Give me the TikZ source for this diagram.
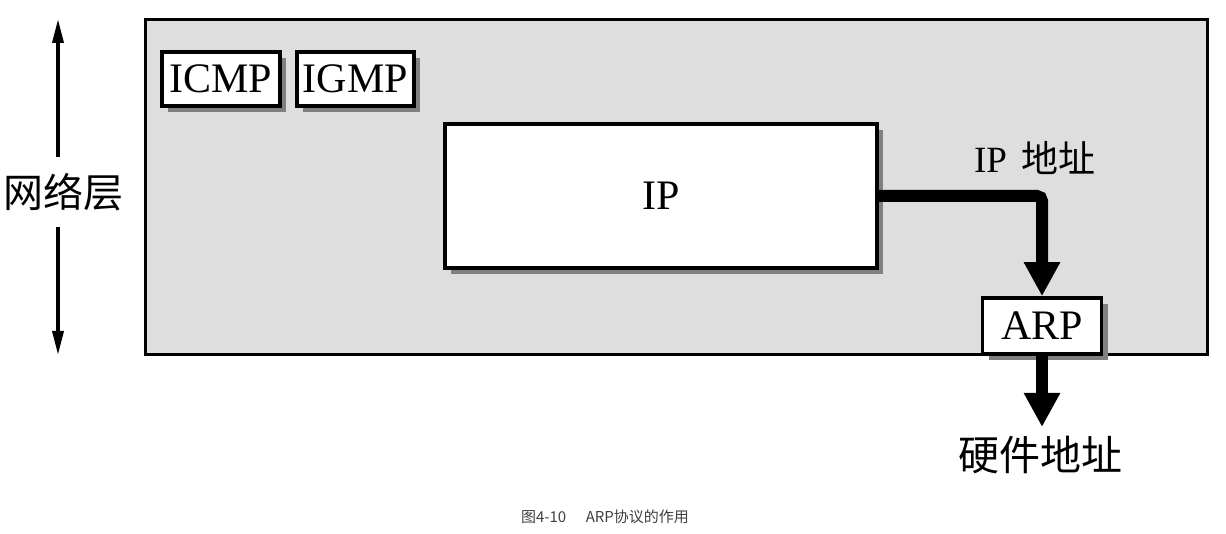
\documentclass[tikz,border=0pt]{standalone}
\usepackage{fontspec}
\setmainfont{Liberation Serif}
\newfontfamily\cjk{Noto Sans CJK SC}
\usetikzlibrary{arrows.meta,shadows}
\definecolor{layerfill}{HTML}{DEDEDE}
\definecolor{shadowgray}{HTML}{808080}
\tikzset{
  protobox/.style={draw=black, line width=3.5pt, fill=white, inner sep=0pt,
    font=\fontsize{42}{48}\selectfont,
    drop shadow={shadow xshift=6pt, shadow yshift=-6pt, fill=shadowgray, opacity=1}},
  layerbox/.style={draw=black, line width=3pt, fill=layerfill, inner sep=0pt},
  bigarrow/.style={line width=12pt, -{Triangle[width=34pt,length=34pt]}},
  thinarrow/.style={line width=3.5pt, -{Triangle[width=11pt,length=24pt]}},
  cjklabel/.style={font=\cjk\fontsize{40}{46}\selectfont, inner sep=0pt}
}
\begin{document}
\begin{tikzpicture}[x=1pt,y=-1pt]
\useasboundingbox (0,0) rectangle (1226,534);
% network layer box
\node[layerbox, minimum width=1062pt, minimum height=335pt] (layer) at (676,187.5) {};
% protocol boxes
\node[protobox, minimum width=118pt, minimum height=54pt] (icmp) at (221,79) {ICMP};
\node[protobox, minimum width=117pt, minimum height=54pt] (igmp) at (355.5,79) {IGMP};
\node[protobox, minimum width=432pt, minimum height=144pt] (ip) at (661,196) {IP};
\node[protobox, minimum width=119pt, minimum height=56pt] (arp) at (1042,326) {ARP};
% labels
\node[inner sep=0pt, font=\fontsize{37}{42}\selectfont] (ipaddr) at (1035,158) {IP\hspace{0.4em}{\cjk 地址}};
\node[cjklabel, font=\cjk\fontsize{41}{46}\selectfont] (hwaddr) at (1040,455) {硬件地址};
\node[cjklabel, minimum height=70pt] (netlayer) at (63,192) {网络层};
% arrows
\draw[bigarrow, rounded corners=5pt] (ip.east) -| (arp.north);
\coordinate (hwtip) at (1042,427);
\draw[bigarrow] (arp.south) -- (hwtip);
\coordinate (ltop) at (58,19);
\coordinate (lbot) at (58,355);
\draw[thinarrow] (netlayer.north -| ltop) -- (ltop);
\draw[thinarrow] (netlayer.south -| lbot) -- (lbot);
% caption
\node[inner sep=0pt, text=black!75, font=\cjk\fontsize{15}{18}\selectfont] (caption) at (605,517) {图4-10\hspace{1.3em}ARP协议的作用};
\end{tikzpicture}
\end{document}
